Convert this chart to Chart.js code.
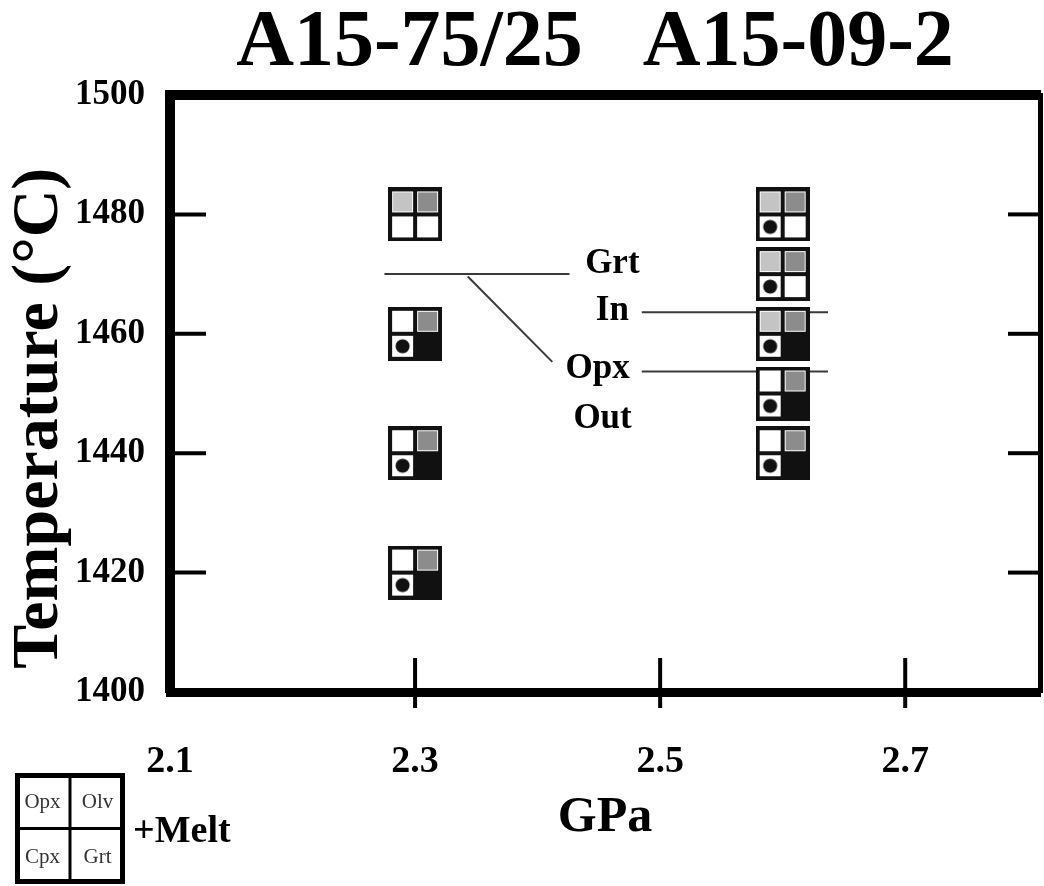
<!DOCTYPE html>
<html>
<head>
  <meta charset="utf-8">
  <title>A15 phase relations</title>
  <script src="https://cdn.jsdelivr.net/npm/chart.js"></script>
  <style>
    body { margin: 0; background: #fff; }
  </style>
</head>
<body>
  <canvas id="chart" width="1044" height="886"></canvas>

  <script>
    // runs: pressure (GPa), temperature (C), phases present (1 = yes)
    const samples = ['A15-75/25', 'A15-09-2'];

    const pA = [2.3, 2.3, 2.3, 2.3];
    const tA = [1480, 1460, 1440, 1420];
    const opxA = [1, 0, 0, 0];
    const olvA = [1, 1, 1, 1];
    const cpxA = [0, 1, 1, 1];
    const grtA = [0, 1, 1, 1];

    const pB = [2.6, 2.6, 2.6, 2.6, 2.6];
    const tB = [1480, 1470, 1460, 1450, 1440];
    const opxB = [1, 1, 1, 0, 0];
    const olvB = [1, 1, 1, 1, 1];
    const cpxB = [1, 1, 1, 1, 1];
    const grtB = [0, 0, 1, 1, 1];

    // phase boundary lines
    const grtLeftP = [2.275, 2.426];
    const grtLeftT = [1470, 1470];
    const leaderP = [2.343, 2.412];
    const leaderT = [1469.6, 1455.3];
    const grtInP = [2.485, 2.637];
    const grtInT = [1463.6, 1463.6];
    const opxOutP = [2.485, 2.637];
    const opxOutT = [1453.7, 1453.7];

    // boundary labels
    const noteText = ['Grt', 'In', 'Opx', 'Out'];
    const noteP = [2.461, 2.461, 2.449, 2.453];
    const noteT = [1470.2, 1462.3, 1452.6, 1444.2];

    const xTicks = [2.1, 2.3, 2.5, 2.7];
    const yTicks = [1400, 1420, 1440, 1460, 1480, 1500];

    const FONT = '"Liberation Serif", "Times New Roman", serif';
    const NB = '\u00A0';

    // 2x2 box: Opx | Olv / Cpx | Grt
    function phaseSymbol(opx, olv, cpx, grt) {
      const s = 54, m = 4, q = 21;
      const cv = document.createElement('canvas');
      cv.width = s; cv.height = s;
      const c = cv.getContext('2d');
      c.fillStyle = '#111';
      c.fillRect(0, 0, s, s);
      const cell = (x, y, fill) => {
        c.fillStyle = '#fff';
        c.fillRect(x, y, q, q);
        if (fill) {
          c.fillStyle = fill;
          c.fillRect(x + 1, y + 1, q - 2, q - 2);
        }
      };
      cell(m, m, opx ? '#c4c4c4' : null);
      cell(m * 2 + q, m, olv ? '#8c8c8c' : null);
      cell(m, m * 2 + q, null);
      if (cpx) {
        c.fillStyle = '#111';
        c.beginPath();
        c.arc(m + q / 2, m * 2 + q + q / 2, 7, 0, Math.PI * 2);
        c.fill();
      }
      if (!grt) cell(m * 2 + q, m * 2 + q, null);
      return cv;
    }

    const toPts = (xs, ys) => xs.map((x, i) => ({ x: x, y: ys[i] }));
    const stylesA = pA.map((_, i) => phaseSymbol(opxA[i], olvA[i], cpxA[i], grtA[i]));
    const stylesB = pB.map((_, i) => phaseSymbol(opxB[i], olvB[i], cpxB[i], grtB[i]));

    const boundary = (label, xs, ys) => ({
      label: label,
      type: 'line',
      data: toPts(xs, ys),
      borderColor: '#3a3a3a',
      borderWidth: 2,
      pointRadius: 0,
      fill: false
    });

    // keep the frame exactly where afterFit puts it
    const noPad = s => {
      s.paddingLeft = 0; s.paddingRight = 0;
      s.paddingTop = 0; s.paddingBottom = 0;
    };

    // inward ticks like the original frame
    const innerTicks = {
      id: 'innerTicks',
      afterDatasetsDraw(chart) {
        const { ctx, chartArea: a, scales } = chart;
        ctx.save();
        ctx.strokeStyle = '#000';
        ctx.lineWidth = 4;
        const seg = (x1, y1, x2, y2) => {
          ctx.beginPath(); ctx.moveTo(x1, y1); ctx.lineTo(x2, y2); ctx.stroke();
        };
        scales.y.ticks.forEach(t => {
          if (t.value <= scales.y.min || t.value >= scales.y.max) return;
          const y = scales.y.getPixelForValue(t.value);
          seg(a.left, y, a.left + 36, y);
          seg(a.right - 32, y, a.right, y);
        });
        scales.x.ticks.forEach(t => {
          if (t.value <= scales.x.min) return;
          const x = scales.x.getPixelForValue(t.value);
          seg(x, a.bottom - 34, x, a.bottom + 16);
        });
        ctx.restore();
      }
    };

    // Grt / In / Opx / Out text
    const boundaryNotes = {
      id: 'boundaryNotes',
      afterDatasetsDraw(chart) {
        const { ctx, scales } = chart;
        ctx.save();
        ctx.fillStyle = '#000';
        ctx.font = 'bold 35px ' + FONT;
        ctx.textAlign = 'center';
        ctx.textBaseline = 'alphabetic';
        noteText.forEach((txt, i) => {
          ctx.fillText(txt, scales.x.getPixelForValue(noteP[i]), scales.y.getPixelForValue(noteT[i]));
        });
        ctx.restore();
      }
    };

    // key box in the lower left corner
    const phaseKey = {
      id: 'phaseKey',
      afterDraw(chart) {
        const ctx = chart.ctx;
        const x0 = 15, y0 = 773, w = 110, h = 111;
        ctx.save();
        ctx.strokeStyle = '#000';
        ctx.lineWidth = 5;
        ctx.strokeRect(x0 + 2.5, y0 + 2.5, w - 5, h - 5);
        ctx.lineWidth = 3;
        ctx.beginPath();
        ctx.moveTo(x0 + w / 2, y0); ctx.lineTo(x0 + w / 2, y0 + h);
        ctx.moveTo(x0, y0 + h / 2); ctx.lineTo(x0 + w, y0 + h / 2);
        ctx.stroke();
        ctx.fillStyle = '#333';
        ctx.font = '21px ' + FONT;
        ctx.textAlign = 'center';
        ctx.textBaseline = 'middle';
        ctx.fillText('Opx', x0 + w * 0.25, y0 + h * 0.27);
        ctx.fillText('Olv', x0 + w * 0.75, y0 + h * 0.27);
        ctx.fillText('Cpx', x0 + w * 0.25, y0 + h * 0.76);
        ctx.fillText('Grt', x0 + w * 0.75, y0 + h * 0.76);
        ctx.fillStyle = '#000';
        ctx.font = 'bold 38px ' + FONT;
        ctx.textAlign = 'left';
        ctx.textBaseline = 'alphabetic';
        ctx.fillText('+Melt', 133, 842);
        ctx.restore();
      }
    };

    const ctx = document.getElementById('chart').getContext('2d');
    new Chart(ctx, {
      type: 'scatter',
      data: {
        datasets: [
          {
            label: samples[0],
            data: toPts(pA, tA),
            pointStyle: stylesA,
            pointRadius: 27,
            showLine: false
          },
          {
            label: samples[1],
            data: toPts(pB, tB),
            pointStyle: stylesB,
            pointRadius: 27,
            showLine: false
          },
          boundary('Grt in (2.3)', grtLeftP, grtLeftT),
          boundary('leader', leaderP, leaderT),
          boundary('Grt in', grtInP, grtInT),
          boundary('Opx out', opxOutP, opxOutT)
        ]
      },
      options: {
        responsive: false,
        animation: false,
        events: [],
        layout: { padding: 0, autoPadding: false },
        plugins: {
          legend: { display: false },
          tooltip: { enabled: false },
          title: {
            display: true,
            fullSize: false,
            text: samples[0] + NB + NB + NB + samples[1] + NB,
            color: '#000',
            font: { family: FONT, size: 80, weight: 'bold', lineHeight: 1 },
            padding: { top: 4, bottom: 0 }
          }
        },
        scales: {
          x: {
            type: 'linear',
            position: 'bottom',
            min: 2.1,
            max: 2.81,
            afterBuildTicks: s => { s.ticks = xTicks.map(v => ({ value: v })); },
            afterFit: s => { s.height = 194; noPad(s); },
            grid: { drawOnChartArea: false, drawTicks: false },
            border: { color: '#000', width: 9 },
            ticks: {
              padding: 47,
              color: '#000',
              maxRotation: 0,
              autoSkip: false,
              font: { family: FONT, size: 38, weight: 'bold' },
              callback: v => v.toFixed(1)
            },
            title: {
              display: true,
              text: 'GPa',
              color: '#000',
              font: { family: FONT, size: 50, weight: 'bold' },
              padding: { top: 0, bottom: 38 }
            }
          },
          x2: {
            type: 'linear',
            position: 'top',
            min: 2.1,
            max: 2.81,
            afterFit: s => { s.height = 11; noPad(s); },
            grid: { drawOnChartArea: false, drawTicks: false },
            border: { color: '#000', width: 10 },
            ticks: { display: false }
          },
          y: {
            type: 'linear',
            position: 'left',
            min: 1400,
            max: 1500,
            afterBuildTicks: s => { s.ticks = yTicks.map(v => ({ value: v })); },
            afterFit: s => { s.width = 170; noPad(s); },
            grid: { drawOnChartArea: false, drawTicks: false },
            border: { color: '#000', width: 10 },
            ticks: {
              padding: 25,
              color: '#000',
              font: { family: FONT, size: 35, weight: 'bold' },
              callback: v => String(v)
            },
            title: {
              display: true,
              text: 'Temperature (°C)' + NB + NB + NB,
              color: '#000',
              font: { family: FONT, size: 66, weight: 'bold' },
              padding: { top: 0, bottom: 0 }
            }
          },
          y2: {
            type: 'linear',
            position: 'right',
            min: 1400,
            max: 1500,
            afterFit: s => { s.width = 4; noPad(s); },
            grid: { drawOnChartArea: false, drawTicks: false },
            border: { color: '#000', width: 5 },
            ticks: { display: false }
          }
        }
      },
      plugins: [innerTicks, boundaryNotes, phaseKey]
    });
  </script>
</body>
</html>
